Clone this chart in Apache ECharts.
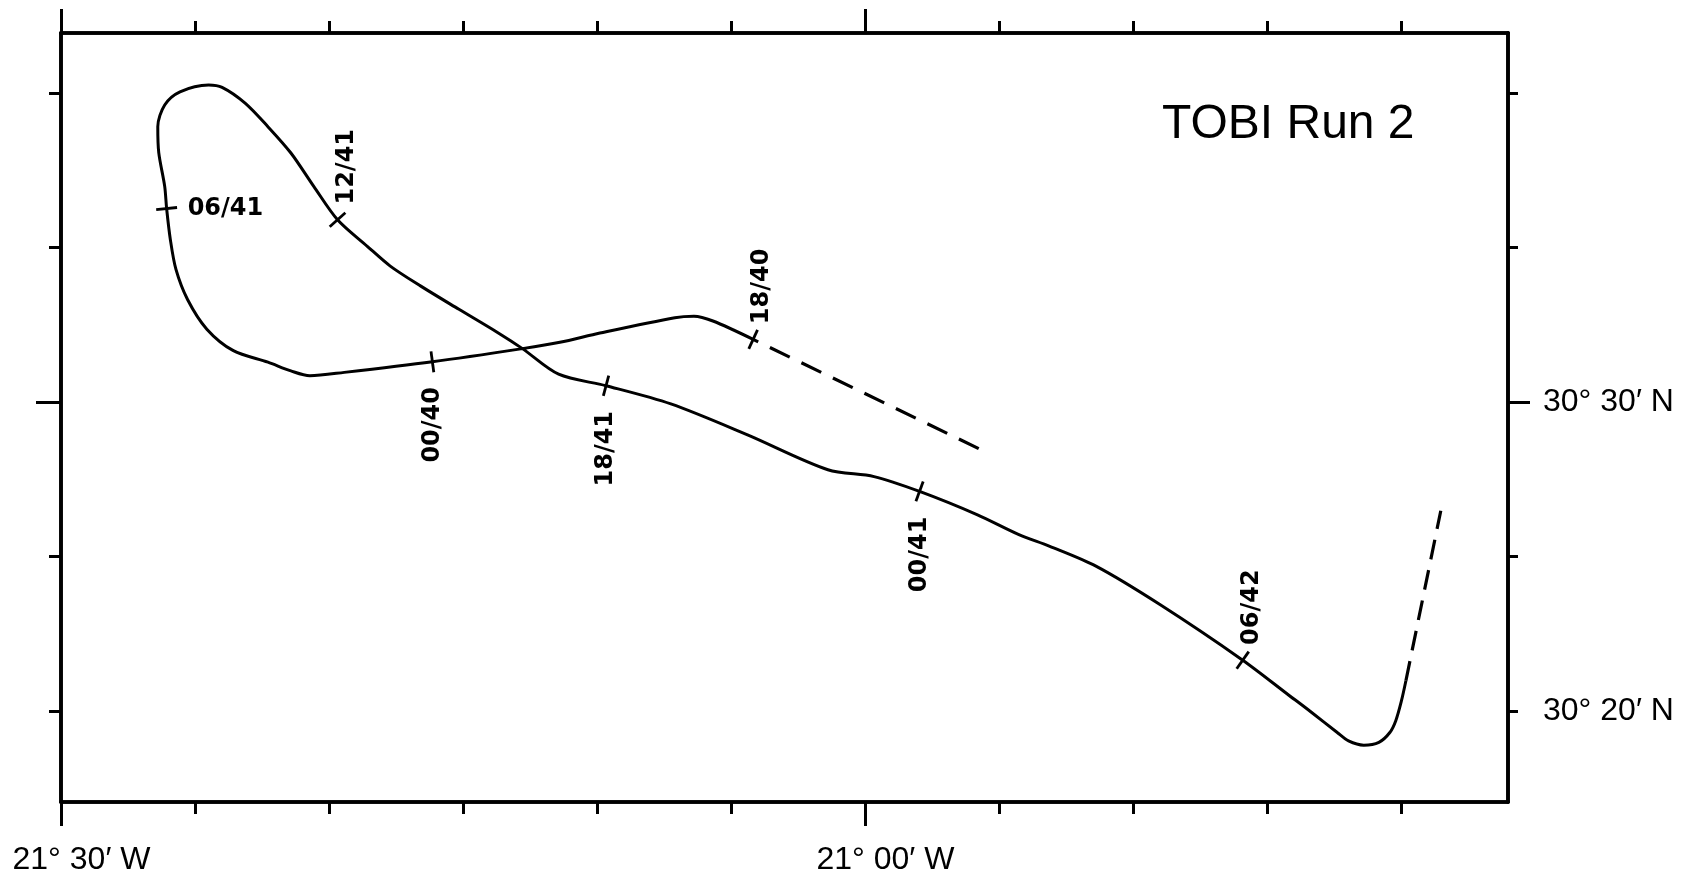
<!DOCTYPE html>
<html>
<head>
<meta charset="utf-8">
<title>TOBI Run 2</title>
<script src="https://cdn.jsdelivr.net/npm/echarts@6/dist/echarts.min.js"></script>
<style>
  html, body { margin: 0; padding: 0; background: #fff; }
  #chart { width: 1691px; height: 876px; }
</style>
</head>
<body>
<div id="chart"></div>
<script>
// ship track, decimal degrees (west negative)
const trackLon = [
  -21.0695, -21.0945, -21.1063, -21.1182, -21.1648, -21.1897, -21.2130, -21.2690, -21.3238, -21.3452,
  -21.3570, -21.3713, -21.3928, -21.4093, -21.4213, -21.4285, -21.4320, -21.4343, -21.4355, -21.4392,
  -21.4398, -21.4355, -21.4260, -21.4082, -21.3998, -21.3855, -21.3713, -21.3570, -21.3428, -21.3280,
  -21.3095, -21.2952, -21.2762, -21.2525, -21.2285, -21.2130, -21.1905, -21.1610, -21.1207, -21.0730,
  -21.0230, -20.9943, -20.9660, -20.9303, -20.9042, -20.8850, -20.8563, -20.8165, -20.7650, -20.7367,
  -20.7227, -20.7062, -20.6992, -20.6897, -20.6803, -20.6735, -20.6698, -20.6663, -20.6635
]
const trackLat = [
  30.5338, 30.5437, 30.5463, 30.5455, 30.5372, 30.5322, 30.5288, 30.5217, 30.5160, 30.5142,
  30.5168, 30.5215, 30.5277, 30.5393, 30.5553, 30.5715, 30.5877, 30.6043, 30.6163, 30.6345,
  30.6485, 30.6602, 30.6673, 30.6710, 30.6697, 30.6612, 30.6485, 30.6343, 30.6163, 30.5983,
  30.5840, 30.5733, 30.5625, 30.5500, 30.5375, 30.5288, 30.5150, 30.5088, 30.4990, 30.4823,
  30.4635, 30.4598, 30.4518, 30.4393, 30.4285, 30.4222, 30.4115, 30.3908, 30.3608, 30.3422,
  30.3330, 30.3218, 30.3173, 30.3150, 30.3165, 30.3218, 30.3282, 30.3388, 30.3497
]
// dashed parts: before 18/40 and after the end of the solid line
const leadInLon = [-20.9292, -21.0695]
const leadInLat = [30.4749, 30.5338]
const leadOutLon = [-20.6635, -20.6418]
const leadOutLat = [30.3497, 30.4414]

// time marks (hour/day) sitting on track points
const markTimes = ['18/40', '00/40', '06/41', '12/41', '18/41', '00/41', '06/42']
const markIndex = [0, 7, 17, 29, 37, 42, 48]
const markSide = ['above', 'below', 'right', 'above', 'below', 'below', 'above']

// axis ticks as [degrees, minutes]
const lonTicks = [[21, 30], [21, 25], [21, 20], [21, 15], [21, 10], [21, 5], [21, 0], [20, 55], [20, 50], [20, 45], [20, 40]]
const lonMajor = [[21, 30], [21, 0]]
const latTicks = [[30, 20], [30, 25], [30, 30], [30, 35], [30, 40]]
const latMajor = [[30, 30]]
const latLabels = [[30, 20], [30, 30]]

const west = (t) => -(t[0] + t[1] / 60)
const north = (t) => t[0] + t[1] / 60
const lonMin = -21.5
const lonMax = -20.6
const latMin = 30 + 17.06 / 60
const latMax = 30 + 41.94 / 60

function dmLabel(v) {
  const a = Math.abs(v)
  let d = Math.floor(a + 1e-6)
  let m = Math.round((a - d) * 60)
  if (m === 60) { d += 1; m = 0 }
  return d + '° ' + String(m).padStart(2, '0') + '′ ' + (v < 0 ? 'W' : 'N')
}

const labelFont = { color: '#000', fontSize: 32, fontFamily: '"Liberation Sans", Arial, sans-serif' }

function lonAxis(pos, ticks, len, withLabels) {
  return {
    type: 'value', position: pos, min: lonMin, max: lonMax,
    axisLine: { show: true, onZero: false, lineStyle: { color: '#000', width: 3.6 } },
    axisTick: { show: true, inside: false, length: len, customValues: ticks.map(west), lineStyle: { color: '#000', width: 3 } },
    axisLabel: withLabels ? Object.assign({
      customValues: lonMajor.map(west), formatter: dmLabel, margin: 42, padding: [0, 0, 0, 41]
    }, labelFont) : { show: false },
    splitLine: { show: false }
  }
}

function latAxis(pos, ticks, len, withLabels) {
  return {
    type: 'value', position: pos, min: latMin, max: latMax,
    axisLine: { show: true, onZero: false, lineStyle: { color: '#000', width: 3.6 } },
    axisTick: { show: true, inside: false, length: len, customValues: ticks.map(north), lineStyle: { color: '#000', width: 3 } },
    axisLabel: withLabels ? Object.assign({
      customValues: latLabels.map(north), formatter: dmLabel, margin: 35
    }, labelFont) : { show: false },
    splitLine: { show: false }
  }
}

const n = trackLon.length
const labelOffset = { above: [9, -53], below: [0, 63], right: [21, 0] }

function renderMark(params, api) {
  const k = params.dataIndex
  const i = markIndex[k]
  const p = api.coord([trackLon[i], trackLat[i]])
  const i0 = Math.max(i - 1, 0), i1 = Math.min(i + 1, n - 1)
  const a = api.coord([trackLon[i0], trackLat[i0]])
  const b = api.coord([trackLon[i1], trackLat[i1]])
  let dx = b[0] - a[0], dy = b[1] - a[1]
  const len = Math.hypot(dx, dy) || 1
  dx /= len; dy /= len
  const h = 10.5
  const side = markSide[k]
  const off = labelOffset[side]
  return {
    type: 'group',
    children: [
      {
        type: 'line',
        shape: { x1: p[0] - dy * h, y1: p[1] + dx * h, x2: p[0] + dy * h, y2: p[1] - dx * h },
        style: { stroke: '#000', lineWidth: 2.8 }
      },
      {
        type: 'text',
        x: p[0] + off[0], y: p[1] + off[1],
        rotation: side === 'right' ? 0 : Math.PI / 2,
        style: {
          text: markTimes[k], fill: '#000',
          font: 'bold 24px "DejaVu Sans", sans-serif',
          align: side === 'right' ? 'left' : 'center', verticalAlign: 'middle'
        }
      }
    ]
  }
}

const zip = (xs, ys) => xs.map((x, j) => [x, ys[j]])

let mycharts = echarts.init(document.getElementById('chart'))
mycharts.setOption({
  animation: false,
  backgroundColor: '#fff',
  title: {
    text: 'TOBI Run 2', left: 1157, top: 96,
    textStyle: { color: '#000', fontSize: 48, fontWeight: 'normal', fontFamily: '"Liberation Sans", Arial, sans-serif' }
  },
  grid: { left: 61, right: 183, top: 33, bottom: 72 },
  xAxis: [
    lonAxis('bottom', lonTicks, 12, false),
    lonAxis('bottom', lonMajor, 24, true),
    lonAxis('top', lonTicks, 12, false),
    lonAxis('top', lonMajor, 24, false)
  ],
  yAxis: [
    latAxis('left', latTicks, 12, false),
    latAxis('left', latMajor, 25, false),
    latAxis('right', latTicks, 10, false),
    latAxis('right', latMajor, 22, true)
  ],
  series: [
    {
      type: 'line', name: 'track', data: zip(trackLon, trackLat),
      smooth: 0.3, showSymbol: false, lineStyle: { color: '#000', width: 3 }
    },
    {
      type: 'line', name: 'lead-in', data: zip(leadInLon, leadInLat),
      showSymbol: false, lineStyle: { color: '#000', width: 3.2, type: [22, 13], cap: 'butt' }
    },
    {
      type: 'line', name: 'lead-out', data: zip(leadOutLon, leadOutLat),
      showSymbol: false, lineStyle: { color: '#000', width: 3.2, type: [20, 11], cap: 'butt' }
    },
    {
      type: 'custom', name: 'marks',
      data: markIndex.map(i => [trackLon[i], trackLat[i]]),
      renderItem: renderMark, clip: false, z: 3
    }
  ]
})
</script>
</body>
</html>
